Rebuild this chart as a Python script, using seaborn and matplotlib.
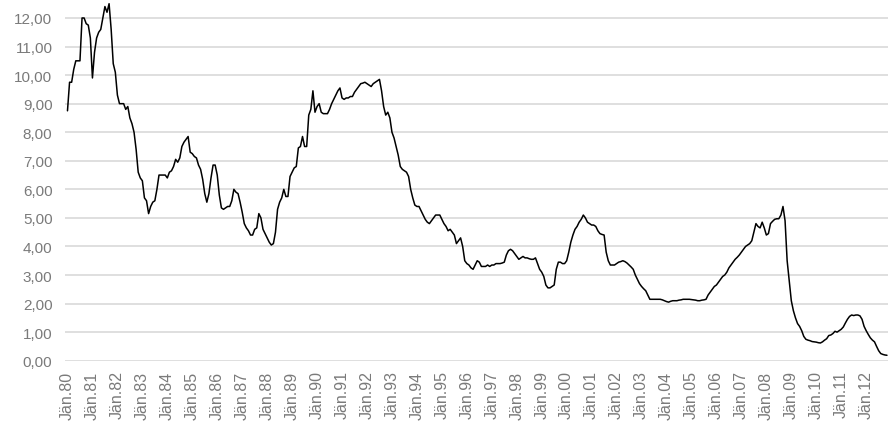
import seaborn as sns
from matplotlib import pyplot as plt
from matplotlib.ticker import FuncFormatter
import pandas as pd
import numpy as np

# monthly values, Jan 1980 .. Nov 2012
rates_1980s = [
    8.75, 9.75, 9.75, 10.2, 10.5, 10.5, 10.5, 12.0, 12.0, 11.8, 11.75, 11.3,
    9.9, 10.8, 11.3, 11.5, 11.6, 12.0, 12.4, 12.2, 12.5, 11.6, 10.4, 10.1,
    9.3, 9.0, 9.0, 9.0, 8.8, 8.9, 8.5, 8.3, 8.0, 7.4, 6.6, 6.4,
    6.3, 5.7, 5.6, 5.15, 5.4, 5.55, 5.6, 6.0, 6.5, 6.5, 6.5, 6.5,
    6.4, 6.6, 6.65, 6.8, 7.05, 6.95, 7.1, 7.5, 7.65, 7.75, 7.85, 7.3,
    7.25, 7.15, 7.1, 6.85, 6.7, 6.35, 5.85, 5.55, 5.85, 6.4, 6.85, 6.85,
    6.5, 5.8, 5.35, 5.3, 5.35, 5.4, 5.4, 5.6, 6.0, 5.9, 5.85, 5.55,
    5.2, 4.8, 4.65, 4.55, 4.4, 4.4, 4.6, 4.65, 5.15, 5.0, 4.6, 4.45,
    4.3, 4.15, 4.05, 4.1, 4.5, 5.3, 5.55, 5.7, 6.0, 5.75, 5.75, 6.45,
    6.6, 6.75, 6.8, 7.45, 7.5, 7.85, 7.5, 7.5, 8.6, 8.8, 9.45, 8.7,
]
rates_1990s = [
    8.9, 9.0, 8.7, 8.65, 8.65, 8.65, 8.8, 9.0, 9.15, 9.3, 9.45, 9.55,
    9.2, 9.15, 9.2, 9.2, 9.25, 9.25, 9.4, 9.5, 9.6, 9.7, 9.72, 9.75,
    9.7, 9.65, 9.6, 9.7, 9.75, 9.8, 9.85, 9.45, 8.9, 8.6, 8.7, 8.5,
    8.0, 7.8, 7.5, 7.2, 6.8, 6.7, 6.65, 6.6, 6.45, 6.0, 5.7, 5.45,
    5.4, 5.4, 5.25, 5.1, 4.95, 4.85, 4.8, 4.9, 5.0, 5.1, 5.1, 5.1,
    4.95, 4.8, 4.7, 4.55, 4.6, 4.5, 4.4, 4.1, 4.2, 4.3, 4.0, 3.5,
    3.4, 3.35, 3.25, 3.2, 3.35, 3.5, 3.45, 3.3, 3.3, 3.3, 3.35, 3.3,
    3.35, 3.35, 3.4, 3.4, 3.4, 3.42, 3.45, 3.7, 3.85, 3.9, 3.85, 3.75,
    3.65, 3.55, 3.6, 3.65, 3.6, 3.6, 3.57, 3.55, 3.55, 3.6, 3.4, 3.2,
    3.1, 2.95, 2.65, 2.55, 2.55, 2.6, 2.65, 3.2, 3.45, 3.45, 3.4, 3.4,
]
rates_2000s = [
    3.5, 3.8, 4.15, 4.4, 4.6, 4.7, 4.85, 4.95, 5.1, 5.0, 4.85, 4.8,
    4.75, 4.75, 4.7, 4.55, 4.45, 4.42, 4.4, 3.8, 3.5, 3.35, 3.35, 3.35,
    3.4, 3.45, 3.47, 3.5, 3.47, 3.42, 3.35, 3.28, 3.2, 3.0, 2.85, 2.7,
    2.6, 2.52, 2.45, 2.3, 2.15, 2.15, 2.15, 2.15, 2.15, 2.15, 2.13, 2.1,
    2.07, 2.05, 2.08, 2.1, 2.1, 2.1, 2.12, 2.13, 2.15, 2.15, 2.15, 2.15,
    2.14, 2.13, 2.12, 2.1, 2.1, 2.12, 2.13, 2.15, 2.3, 2.4, 2.5, 2.6,
    2.65, 2.75, 2.85, 2.95, 3.0, 3.1, 3.25, 3.35, 3.45, 3.55, 3.62, 3.7,
    3.8, 3.9, 4.0, 4.05, 4.1, 4.2, 4.5, 4.8, 4.7, 4.65, 4.85, 4.65,
    4.4, 4.45, 4.8, 4.88, 4.95, 4.97, 4.97, 5.1, 5.4, 4.9, 3.5, 2.8,
    2.1, 1.75, 1.5, 1.3, 1.2, 1.05, 0.85, 0.75, 0.72, 0.7, 0.67, 0.66,
]
rates_2010s = [
    0.65, 0.63, 0.62, 0.66, 0.72, 0.77, 0.88, 0.9, 0.95, 1.03, 1.0, 1.05,
    1.1, 1.18, 1.32, 1.45, 1.55, 1.6, 1.58, 1.6, 1.6, 1.57, 1.45, 1.2,
    1.05, 0.92, 0.8, 0.72, 0.66, 0.5, 0.35, 0.25, 0.22, 0.2, 0.19,
]
years = list(range(1980, 2013))
tick_labels = ["Jän.%02d" % (y % 100) for y in years]

rates = rates_1980s + rates_1990s + rates_2000s + rates_2010s
df = pd.DataFrame({"month": np.arange(len(rates)), "rate": rates})

sns.set_theme(style="white")
plt.rcParams["font.family"] = ["Liberation Sans", "DejaVu Sans"]

fig = plt.figure(figsize=(8.89, 4.39), dpi=100)
ax = fig.add_axes([0.0731, 0.1761, 0.9258, 0.8197])

sns.lineplot(data=df, x="month", y="rate", color="black", linewidth=1.1, ax=ax)

ax.set_xlim(-1.2, 394.5)
ax.set_ylim(0, 12.6)
ax.set_yticks(range(0, 13))
ax.yaxis.set_major_formatter(FuncFormatter(lambda v, p: f"{v:.2f}".replace(".", ",")))
ax.set_xticks([12 * i for i in range(len(years))])
ax.set_xticklabels(tick_labels, rotation=90)
ax.set_xlabel("")
ax.set_ylabel("")

ax.grid(axis="y", color="#d9d9d9", linewidth=1.2)
ax.grid(axis="x", visible=False)
ax.set_axisbelow(True)
for s in ax.spines.values():
    s.set_visible(False)
ax.tick_params(axis="y", length=0, pad=9, labelsize=11, labelcolor="#7a7a7a")
ax.tick_params(axis="x", length=0, pad=7, labelsize=11.5, labelcolor="#7a7a7a")

plt.savefig("out.png", dpi=100)
